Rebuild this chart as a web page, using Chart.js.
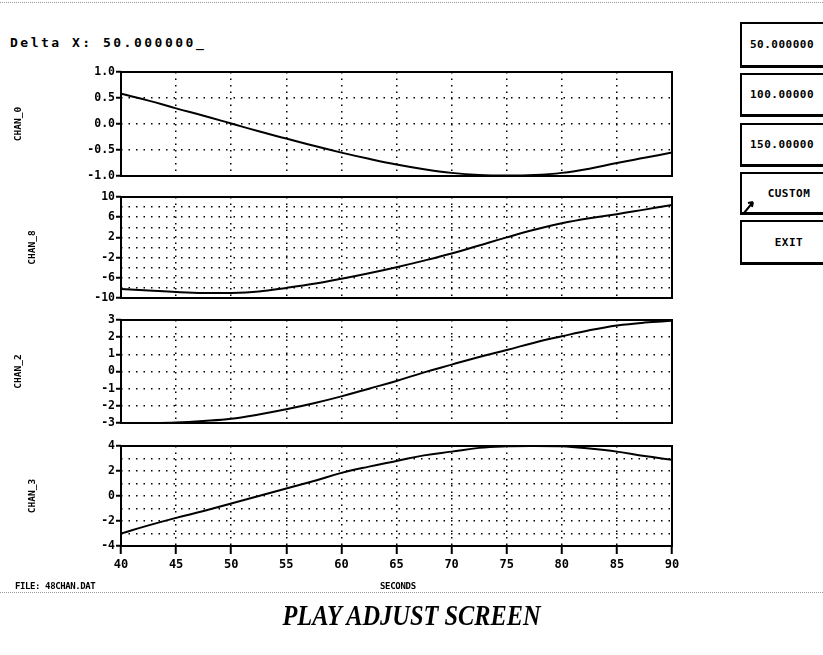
<!DOCTYPE html>
<html>
<head>
<meta charset="utf-8">
<script src="https://cdn.jsdelivr.net/npm/chart.js@4/dist/chart.umd.min.js"></script>
<style>
  body { margin: 0; background: #fff; width: 823px; height: 655px; position: relative; overflow: hidden;
         font-family: 'DejaVu Sans Mono', monospace; color: #000; }
  canvas { position: absolute; left: 0; }
  .txt { position: absolute; font-weight: bold; white-space: nowrap; }
  .dots { position: absolute; left: 0; width: 823px; border-top: 1px dotted #999; }
  .btn { position: absolute; left: 740px; width: 94px; border: 2px solid #000; border-bottom-width: 3px;
         font-weight: bold; font-size: 11px; letter-spacing: 0.5px; display: flex; align-items: center; }
</style>
</head>
<body>
<div class="dots" style="top:2px"></div>
<div class="txt" style="left:10px;top:35px;font-size:13px;letter-spacing:2.5px">Delta X: 50.000000_</div>

<canvas id="c0" width="700" height="128" style="top:60px"></canvas>
<canvas id="c1" width="700" height="125" style="top:185px"></canvas>
<canvas id="c2" width="700" height="127" style="top:308px"></canvas>
<canvas id="c3" width="700" height="148" style="top:434px"></canvas>

<div class="btn" style="top:22px;height:41px;padding-left:8px;width:86px">50.000000</div>
<div class="btn" style="top:73px;height:39px;padding-left:8px;width:86px">100.00000</div>
<div class="btn" style="top:123px;height:39px;padding-left:8px;width:86px">150.00000</div>
<div class="btn" style="top:172px;height:38px;justify-content:center">CUSTOM</div>
<div class="btn" style="top:220px;height:40px;justify-content:center">EXIT</div>
<svg style="position:absolute;left:742px;top:198px" width="14" height="16" viewBox="0 0 14 16">
  <path d="M2 15 L11 4 M11 4 L6 5 M11 4 L10 9" stroke="#000" stroke-width="2" fill="none"/>
</svg>

<div class="txt" style="left:15px;top:581px;font-size:9px;letter-spacing:-0.4px">FILE: 48CHAN.DAT</div>
<div class="txt" style="left:380px;top:581px;font-size:9px;letter-spacing:-0.3px">SECONDS</div>
<div class="dots" style="top:592px"></div>
<div class="txt" style="left:0;width:823px;text-align:center;top:599px;font-family:'Liberation Serif',serif;font-style:italic;font-size:29px;transform:scaleX(0.84)">PLAY ADJUST SCREEN</div>

<script>
// time axis, seconds
const seconds = [40, 42.5, 45, 47.5, 50, 52.5, 55, 57.5, 60, 62.5, 65, 67.5, 70, 72.5, 75, 77.5, 80, 82.5, 85, 87.5, 90];

// channel values
const chan0 = [0.58, 0.45, 0.30, 0.16, 0.01, -0.14, -0.28, -0.42, -0.55, -0.67, -0.78, -0.87, -0.94, -0.98, -0.99, -0.98, -0.94, -0.86, -0.75, -0.65, -0.55];
const chan8 = [-8.2, -8.5, -8.8, -9.0, -9.0, -8.7, -8.0, -7.2, -6.2, -5.1, -3.9, -2.6, -1.2, 0.4, 2.0, 3.5, 4.8, 5.8, 6.6, 7.5, 8.4];
const chan2 = [-3.0, -3.0, -2.97, -2.88, -2.75, -2.5, -2.2, -1.85, -1.45, -1.0, -0.55, -0.05, 0.4, 0.85, 1.25, 1.68, 2.05, 2.4, 2.68, 2.85, 2.95];
const chan3 = [-3.0, -2.35, -1.75, -1.2, -0.6, 0.0, 0.6, 1.2, 1.85, 2.35, 2.8, 3.25, 3.55, 3.85, 3.97, 4.0, 3.98, 3.8, 3.55, 3.2, 2.9];

const channelNames = ['CHAN_0', 'CHAN_8', 'CHAN_2', 'CHAN_3'];
const xTicks = [40, 45, 50, 55, 60, 65, 70, 75, 80, 85, 90];

const tickFont = { family: 'DejaVu Sans Mono', weight: 'bold', size: 11.5 };

// frame round the plot area
const frame = {
  id: 'frame',
  afterDatasetsDraw(chart) {
    const a = chart.chartArea, c = chart.ctx;
    c.save();
    c.strokeStyle = '#000';
    c.lineWidth = 2;
    c.strokeRect(a.left, a.top, a.right - a.left, a.bottom - a.top);
    c.restore();
  }
};

function makePanel(id, name, values, yopts, isLast, titlePad) {
  const pts = seconds.map((s, i) => ({ x: s, y: values[i] }));
  return new Chart(document.getElementById(id), {
    type: 'line',
    data: { datasets: [{ data: pts, borderColor: '#000', borderWidth: 2, pointRadius: 0, tension: 0.4, fill: false }] },
    options: {
      responsive: false,
      animation: false,
      layout: { padding: { top: 12, right: 28, bottom: isLast ? 0 : 12, left: 0 } },
      plugins: { legend: { display: false }, tooltip: { enabled: false } },
      scales: {
        x: {
          type: 'linear', min: 40, max: 90,
          afterBuildTicks: s => { s.ticks = xTicks.map(v => ({ value: v })); },
          afterFit: s => { s.height = isLast ? 36 : 0; },
          grid: {
            color: c => (c.tick && (c.tick.value === 40 || c.tick.value === 90)) ? 'rgba(0,0,0,0)' : '#000',
            lineWidth: 1.5, drawTicks: isLast, tickLength: 8, tickColor: '#000', tickWidth: 2
          },
          border: { display: false, dash: [1.5, 5] },
          ticks: { display: isLast, color: '#000', font: { family: 'DejaVu Sans Mono', weight: 'bold', size: 12 }, padding: 4, maxRotation: 0 }
        },
        y: {
          min: yopts.min, max: yopts.max,
          afterBuildTicks: s => {
            const t = [];
            for (let v = yopts.max; v >= yopts.min - 1e-9; v -= yopts.grid) t.push({ value: +v.toFixed(4) });
            s.ticks = t.reverse();
          },
          afterFit: s => { s.width = 121; },
          title: { display: true, text: name, color: '#000', font: { family: 'DejaVu Sans Mono', weight: 'bold', size: 9.5 }, padding: { top: titlePad, bottom: 0 } },
          grid: {
            color: c => (c.tick && (c.tick.value === yopts.min || c.tick.value === yopts.max)) ? 'rgba(0,0,0,0)' : '#000',
            lineWidth: 1.5, tickLength: 5, tickWidth: 2,
            tickColor: c => (c.tick && yopts.labels.includes(c.tick.value)) ? '#000' : 'rgba(0,0,0,0)'
          },
          border: { display: false, dash: [1.5, 6] },
          ticks: {
            color: '#000', font: tickFont, padding: 1, autoSkip: false,
            callback: v => yopts.labels.includes(v) ? yopts.fmt(v) : ''
          }
        }
      }
    },
    plugins: [frame]
  });
}

makePanel('c0', channelNames[0], chan0,
  { min: -1, max: 1, grid: 0.5, labels: [-1, -0.5, 0, 0.5, 1], fmt: v => v.toFixed(1) }, false, 13);
makePanel('c1', channelNames[1], chan8,
  { min: -10, max: 10, grid: 2, labels: [-10, -6, -2, 2, 6, 10], fmt: v => String(v) }, false, 27);
makePanel('c2', channelNames[2], chan2,
  { min: -3, max: 3, grid: 1, labels: [-3, -2, -1, 0, 1, 2, 3], fmt: v => String(v) }, false, 13);
makePanel('c3', channelNames[3], chan3,
  { min: -4, max: 4, grid: 1, labels: [-4, -2, 0, 2, 4], fmt: v => String(v) }, true, 27);
</script>
</body>
</html>
